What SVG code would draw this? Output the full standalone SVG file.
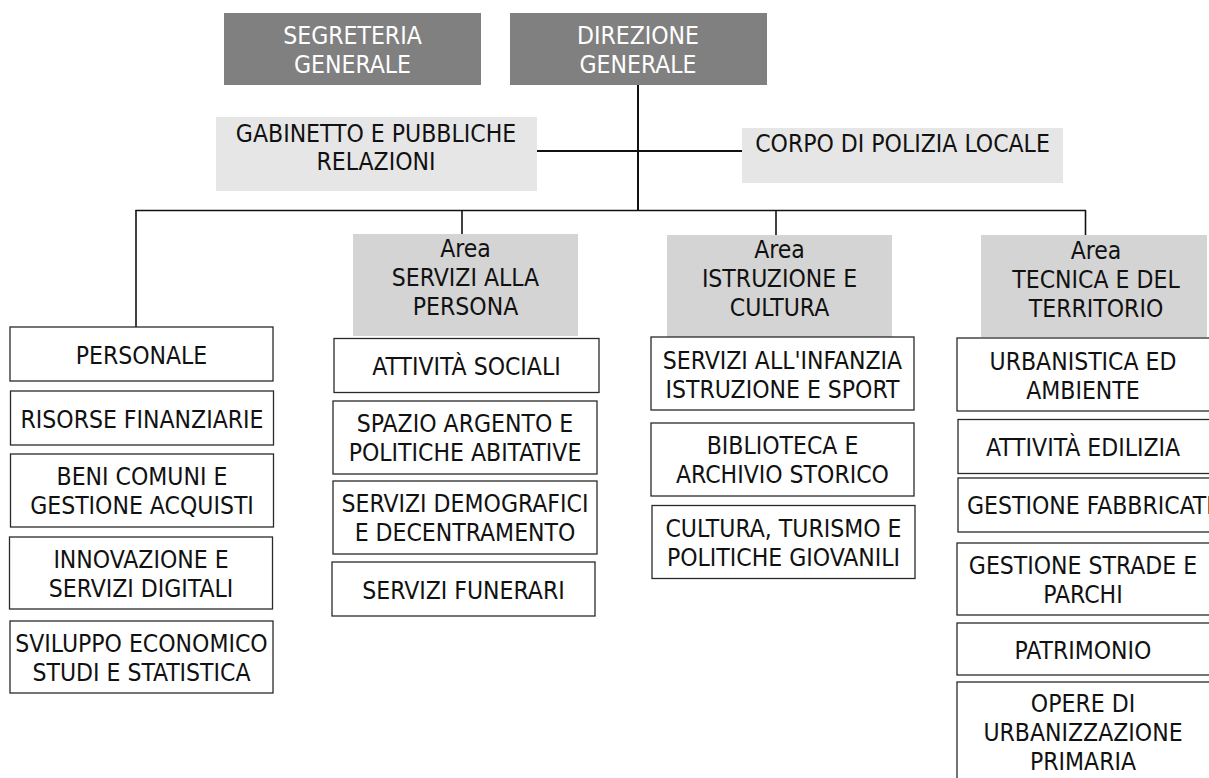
<svg xmlns="http://www.w3.org/2000/svg" width="1209" height="778" viewBox="0 0 1209 778">
<style>
text{font-family:"DejaVu Sans Condensed","DejaVu Sans",sans-serif;font-stretch:condensed;font-size:24.5px;fill:#111;text-anchor:middle}
.dark rect{fill:#808080}
.dark text{fill:#fff}
.light rect{fill:#e6e6e6}
.area rect{fill:#d4d4d4}
.unit rect{fill:#fff;stroke:#2a2a2a;stroke-width:1.3}
#connectors line{stroke:#111;stroke-width:1.6}
</style>
<rect width="1209" height="778" fill="#fff"/>
<g id="connectors">
<line x1="638" y1="85" x2="638" y2="210.5" style="stroke-width:2"/>
<line x1="537" y1="151" x2="742" y2="151" style="stroke-width:2"/>
<line x1="135.5" y1="210.5" x2="1086" y2="210.5"/>
<line x1="136" y1="210" x2="136" y2="327"/>
<line x1="462" y1="210" x2="462" y2="234"/>
<line x1="776" y1="210" x2="776" y2="235"/>
<line x1="1085.5" y1="210" x2="1085.5" y2="235"/>
</g>
<g id="segreteria" class="dark"><rect x="224" y="13" width="257" height="72"/><text x="352.5" y="44">SEGRETERIA</text><text x="352.5" y="73">GENERALE</text></g>
<g id="direzione" class="dark"><rect x="510" y="13" width="257" height="72"/><text x="638" y="44">DIREZIONE</text><text x="638" y="73">GENERALE</text></g>
<g id="gabinetto" class="light"><rect x="216" y="117" width="321" height="74"/><text x="376" y="142">GABINETTO E PUBBLICHE</text><text x="376" y="170">RELAZIONI</text></g>
<g id="polizia" class="light"><rect x="742" y="128" width="321" height="55"/><text x="902.5" y="152">CORPO DI POLIZIA LOCALE</text></g>
<g id="area-persona" class="area"><rect x="353" y="234" width="225" height="102"/><text x="465.5" y="257">Area</text><text x="465.5" y="286">SERVIZI ALLA</text><text x="465.5" y="315">PERSONA</text></g>
<g id="area-istruzione" class="area"><rect x="667" y="235" width="225" height="102"/><text x="779.5" y="258">Area</text><text x="779.5" y="287">ISTRUZIONE E</text><text x="779.5" y="316">CULTURA</text></g>
<g id="area-tecnica" class="area"><rect x="981" y="235" width="226" height="102"/><text x="1096" y="259">Area</text><text x="1096" y="288">TECNICA E DEL</text><text x="1096" y="317">TERRITORIO</text></g>
<g id="personale" class="unit"><rect x="10" y="327" width="263" height="54"/><text x="141.5" y="363.5">PERSONALE</text></g>
<g id="risorse" class="unit"><rect x="10.5" y="391" width="263" height="54"/><text x="142" y="427.5">RISORSE FINANZIARIE</text></g>
<g id="beni" class="unit"><rect x="10.5" y="454" width="263" height="73"/><text x="142" y="485">BENI COMUNI E</text><text x="142" y="514">GESTIONE ACQUISTI</text></g>
<g id="innovazione" class="unit"><rect x="9.5" y="537" width="263" height="72"/><text x="141" y="568">INNOVAZIONE E</text><text x="141" y="597">SERVIZI DIGITALI</text></g>
<g id="sviluppo" class="unit"><rect x="10" y="621" width="263" height="72"/><text x="141.5" y="652">SVILUPPO ECONOMICO</text><text x="141.5" y="681">STUDI E STATISTICA</text></g>
<g id="sociali" class="unit"><rect x="334" y="338.5" width="265" height="54"/><text x="466.5" y="375">ATTIVITÀ SOCIALI</text></g>
<g id="spazio" class="unit"><rect x="333" y="401" width="264" height="73"/><text x="465" y="432">SPAZIO ARGENTO E</text><text x="465" y="461">POLITICHE ABITATIVE</text></g>
<g id="demografici" class="unit"><rect x="333" y="481" width="264" height="73"/><text x="465" y="512">SERVIZI DEMOGRAFICI</text><text x="465" y="541">E DECENTRAMENTO</text></g>
<g id="funerari" class="unit"><rect x="332" y="562" width="263" height="54"/><text x="463.5" y="599">SERVIZI FUNERARI</text></g>
<g id="infanzia" class="unit"><rect x="651" y="337" width="263" height="73"/><text x="782.5" y="368.5">SERVIZI ALL'INFANZIA</text><text x="782.5" y="397.5">ISTRUZIONE E SPORT</text></g>
<g id="biblioteca" class="unit"><rect x="651" y="423" width="263" height="73"/><text x="782.5" y="454">BIBLIOTECA E</text><text x="782.5" y="483">ARCHIVIO STORICO</text></g>
<g id="cultura" class="unit"><rect x="652" y="505.5" width="263" height="73"/><text x="783.5" y="536.5">CULTURA, TURISMO E</text><text x="783.5" y="565.5">POLITICHE GIOVANILI</text></g>
<g id="urbanistica" class="unit"><rect x="957" y="338" width="260" height="73"/><text x="1083" y="370">URBANISTICA ED</text><text x="1083" y="399">AMBIENTE</text></g>
<g id="edilizia" class="unit"><rect x="958" y="419.5" width="260" height="54"/><text x="1083" y="456">ATTIVITÀ EDILIZIA</text></g>
<g id="fabbricati" class="unit"><rect x="958" y="478" width="260" height="54"/><text x="967" y="514" style="text-anchor:start">GESTIONE FABBRICATI</text></g>
<g id="strade" class="unit"><rect x="957" y="543" width="260" height="72"/><text x="1083" y="574">GESTIONE STRADE E</text><text x="1083" y="603">PARCHI</text></g>
<g id="patrimonio" class="unit"><rect x="957" y="623" width="260" height="52"/><text x="1083" y="659">PATRIMONIO</text></g>
<g id="opere" class="unit"><rect x="957" y="682" width="260" height="110"/><text x="1083" y="712">OPERE DI</text><text x="1083" y="741">URBANIZZAZIONE</text><text x="1083" y="770">PRIMARIA</text></g>
</svg>
